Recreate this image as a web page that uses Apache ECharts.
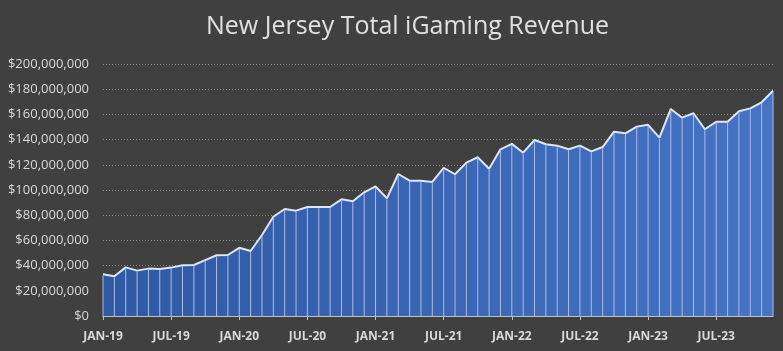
<!doctype html>
<html lang="en">
<head>
  <meta charset="utf-8">
  <title>New Jersey Total iGaming Revenue</title>
  <script src="https://cdn.jsdelivr.net/npm/echarts@6/dist/echarts.min.js"></script>
  <style>
    html, body { margin:0; padding:0; background:#404040; }
    #chartmain { width:783px; height:351px; }
  </style>
</head>
<body>
<div id="chartmain"></div>
<script>
  // months Jan-19 .. Dec-23
  var monthNames = ['JAN','FEB','MAR','APR','MAY','JUN','JUL','AUG','SEP','OCT','NOV','DEC'];
  var years = ['19','20','21','22','23'];
  var months = [];
  years.forEach(function(y){
    monthNames.forEach(function(m){ months.push(m + '-' + y); });
  });

  // revenue in millions of dollars
  var revenueM = [
    33.1, 31.5, 38.6, 36.0, 37.6, 37.3, 38.4, 40.2, 40.5, 44.4, 48.2, 48.4,
    54.1, 51.6, 64.3, 78.8, 84.9, 83.6, 86.5, 86.5, 86.5, 92.6, 91.0, 98.2,
    102.8, 93.4, 112.7, 107.4, 107.4, 106.4, 117.5, 112.5, 121.7, 126.0, 116.9, 132.3,
    136.6, 129.6, 139.7, 136.3, 135.2, 132.3, 135.2, 130.7, 134.1, 146.3, 145.0, 150.3,
    151.7, 141.5, 164.3, 157.4, 160.9, 148.2, 154.2, 154.2, 162.5, 164.8, 169.6, 178.8
  ];
  var revenue = revenueM.map(function(v){ return Math.round(v * 1e6); });

  var yTicks = { min: 0, max: 200000000, step: 20000000 };

  var myChart = echarts.init(document.getElementById('chartmain'));

  var option = {
    backgroundColor: '#404040',
    animation: false,
    title: {
      text: 'New Jersey Total iGaming Revenue',
      left: 201,
      top: 9,
      textStyle: {
        color: '#e0e0e0',
        fontFamily: 'Open Sans',
        fontWeight: 'normal',
        fontSize: 25
      }
    },
    grid: { left: 103, right: 10, top: 64, bottom: 35, containLabel: false },
    xAxis: {
      type: 'category',
      boundaryGap: false,
      data: months,
      axisLine: { lineStyle: { color: '#bfbfbf', width: 1 } },
      axisTick: { show: true, interval: 5, length: 4, lineStyle: { color: '#bfbfbf' } },
      axisLabel: {
        interval: 5,
        color: '#d9d9d9',
        fontWeight: 'bold',
        fontSize: 12,
        fontFamily: 'Open Sans',
        margin: 15
      },
      splitLine: { show: false }
    },
    yAxis: {
      type: 'value',
      min: yTicks.min,
      max: yTicks.max,
      interval: yTicks.step,
      axisLine: { show: false },
      axisTick: { show: false },
      axisLabel: {
        color: '#d9d9d9',
        fontSize: 13,
        fontFamily: 'Open Sans',
        margin: 14,
        formatter: function(v){ return '$' + v.toLocaleString('en-US'); }
      },
      splitLine: { lineStyle: { color: '#8a8a8a', type: [1, 2], width: 1 } }
    },
    series: [
      {
        name: 'Revenue',
        type: 'line',
        data: revenue,
        symbol: 'none',
        lineStyle: { color: '#dce6f4', width: 2 },
        areaStyle: {
          opacity: 1,
          color: new echarts.graphic.LinearGradient(0, 0, 1, 0, [
            { offset: 0, color: '#3059a3' },
            { offset: 1, color: '#4673c6' }
          ])
        },
        z: 2
      },
      {
        // thin drop lines at every month
        name: 'drops',
        type: 'custom',
        data: revenue.map(function(v, i){ return [i, v]; }),
        renderItem: function(params, api){
          var top = api.coord([api.value(0), api.value(1)]);
          var bottom = api.coord([api.value(0), 0]);
          return {
            type: 'line',
            shape: { x1: top[0], y1: top[1] + 1, x2: bottom[0], y2: bottom[1] },
            style: { stroke: '#a8bfe8', lineWidth: 1 }
          };
        },
        silent: true,
        z: 3
      }
    ]
  };
  myChart.setOption(option);
</script>
</body>
</html>
